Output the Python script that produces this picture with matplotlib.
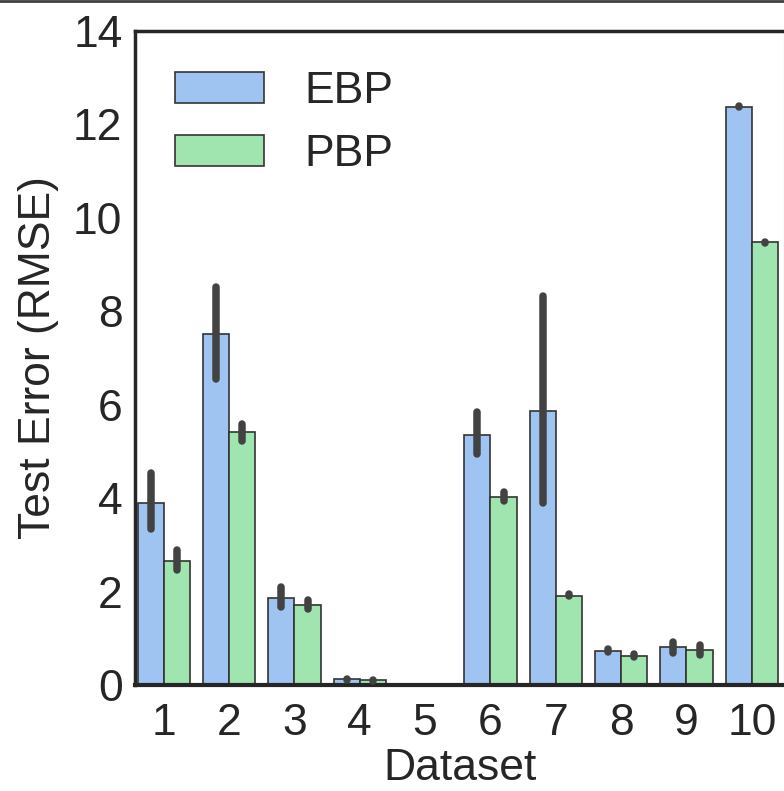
from matplotlib import pyplot as plt
from matplotlib.lines import Line2D
import numpy as np

plt.rcParams['font.family'] = ['Liberation Sans', 'DejaVu Sans']

datasets = ['1', '2', '3', '4', '5', '6', '7', '8', '9', '10']

ebp = [3.90, 7.51, 1.87, 0.12, 0.005, 5.35, 5.87, 0.73, 0.81, 12.38]
ebp_lo = [3.34, 6.55, 1.66, 0.11, 0.004, 4.94, 3.90, 0.70, 0.69, 12.37]
ebp_hi = [4.54, 8.53, 2.10, 0.13, 0.006, 5.85, 8.32, 0.78, 0.92, 12.39]

pbp = [2.65, 5.41, 1.71, 0.10, 0.005, 4.02, 1.91, 0.62, 0.74, 9.48]
pbp_lo = [2.46, 5.22, 1.62, 0.09, 0.004, 3.93, 1.90, 0.61, 0.65, 9.47]
pbp_hi = [2.90, 5.59, 1.81, 0.11, 0.006, 4.14, 1.94, 0.67, 0.85, 9.49]

blue = '#9fc4f1'
green = '#a0e4b0'
err_col = '#424242'
fs = 32

fig = plt.figure(figsize=(7.84, 7.91), dpi=100)
ax = fig.add_axes([135 / 784, 106 / 791, 649.5 / 784, 654 / 791])

x = np.arange(len(datasets))
w = 0.4

# bars, shifted left/right of the group centre
ax.bar(x - w / 2, ebp, width=w, color=blue, edgecolor='0.2', linewidth=1.2, label='EBP')
ax.bar(x + w / 2, pbp, width=w, color=green, edgecolor='0.2', linewidth=1.2, label='PBP')

# seaborn-like thick round error lines
for i in range(len(datasets)):
    ax.plot([x[i] - w / 2] * 2, [ebp_lo[i], ebp_hi[i]], color=err_col, lw=5.4,
            solid_capstyle='round', zorder=5, clip_on=False)
    ax.plot([x[i] + w / 2] * 2, [pbp_lo[i], pbp_hi[i]], color=err_col, lw=5.4,
            solid_capstyle='round', zorder=5, clip_on=False)

ax.set_xlim(-0.44, 9.5)
ax.set_ylim(0, 14)
ax.set_yticks(np.arange(0, 15, 2))
ax.set_xticks(x)
ax.set_xticklabels(datasets)
ax.tick_params(axis='both', length=0, labelsize=fs, colors='#262626')
ax.tick_params(axis='y', pad=9)
ax.tick_params(axis='x', pad=13)

for side in ['left', 'top', 'bottom', 'right']:
    ax.spines[side].set_color('#262626')
    ax.spines[side].set_zorder(4)
ax.spines['left'].set_linewidth(2.5)
ax.spines['top'].set_linewidth(2.5)
ax.spines['bottom'].set_linewidth(3)
ax.spines['right'].set_linewidth(1.5)
ax.spines['right'].set_color('0.6')

ax.set_xlabel('Dataset', fontsize=fs, color='#262626', labelpad=3)
ax.set_ylabel('Test Error (RMSE)', fontsize=fs, color='#262626', labelpad=10)

leg = ax.legend(loc='upper left', fontsize=fs, frameon=False, handletextpad=0.9)
for t in leg.get_texts():
    t.set_color('#262626')

# line along the top edge of the picture
fig.add_artist(Line2D([0, 1], [0.9985, 0.9985], color='0.25', lw=2))

plt.savefig('out.png', dpi=100)
